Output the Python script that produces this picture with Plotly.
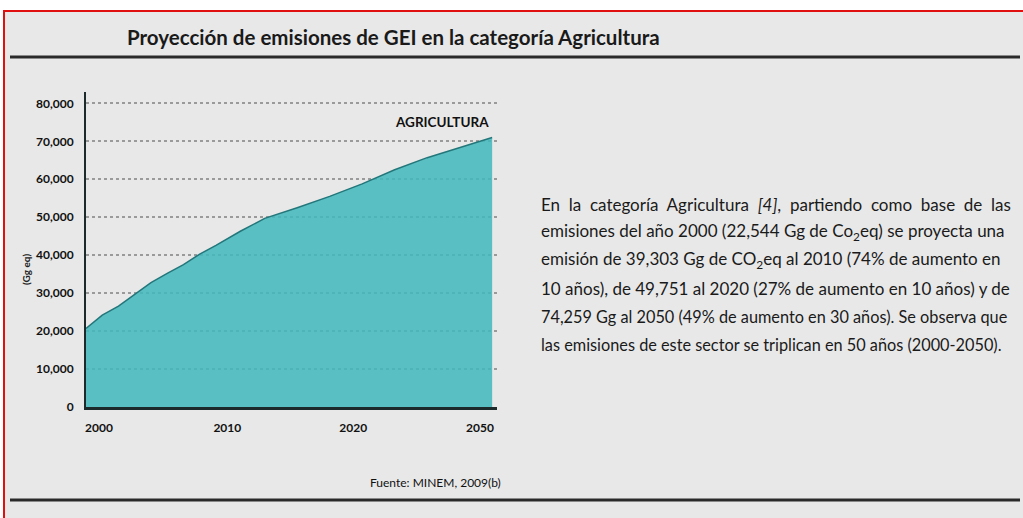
import plotly.graph_objects as go

# Proyección de emisiones de GEI, categoría Agricultura (Gg CO2 eq)
years = [2000, 2002, 2004, 2006, 2008, 2010, 2012, 2014, 2016, 2019,
         2022, 2026, 2030, 2034, 2038, 2042, 2046, 2050]
emissions = [20700, 24200, 26600, 29600, 32800, 35200, 37500, 40300, 42600, 46300,
             49700, 52500, 55500, 58800, 62500, 65700, 68300, 71000]

x_tick_labels = ["2000", "2010", "2020", "2050"]
y_tick_values = [0, 10000, 20000, 30000, 40000, 50000, 60000, 70000, 80000]
y_tick_labels = ["0", "10,000", "20,000", "30,000", "40,000", "50,000",
                 "60,000", "70,000", "80,000"]

title_text = "Proyección de emisiones de GEI en la categoría Agricultura"
series_label = "AGRICULTURA"
y_title = "(Gg eq)"
source_text = "Fuente: MINEM, 2009(b)"
paragraph_lines = [
    "En la categoría Agricultura <i>[4]</i>, partiendo como base de las",
    "emisiones del año 2000 (22,544 Gg de Co<sub>2</sub>eq) se proyecta una",
    "emisión de 39,303 Gg de CO<sub>2</sub>eq al 2010 (74% de aumento en",
    "10 años), de 49,751 al 2020 (27% de aumento en 10 años) y de",
    "74,259 Gg al 2050 (49% de aumento en 30 años). Se observa que",
    "las emisiones de este sector se triplican en 50 años (2000-2050).",
]
# per-line typesetting: (font size, extra spaces between words) to fill the column
paragraph_style = [(17, 1), (17, 0), (17, 0), (17, 0), (16.3, 0), (16.3, 0)]

W, H = 1023, 518
ML, MR, MT, MB = 86, 526, 92, 111
PW, PH = W - ML - MR, H - MT - MB


def px(x):
    return (x - ML) / PW


def py(y):
    return (H - MB - y) / PH


FONT = "Lato, sans-serif"
TEAL_FILL = "rgba(66,184,188,0.86)"
TEAL_EDGE = "#23777b"

fig = go.Figure()
fig.add_trace(go.Scatter(
    x=years, y=emissions, mode="lines",
    line=dict(color=TEAL_EDGE, width=1.5),
    fill="tozeroy", fillcolor=TEAL_FILL,
    hoverinfo="x+y", showlegend=False,
))

shapes = [
    # framed grey panel
    dict(type="rect", xref="paper", yref="paper", layer="below",
         x0=px(4), x1=px(1030), y0=py(11), y1=py(530),
         line=dict(color="#e01010", width=2), fillcolor="#e8e8e8"),
    # rule under the heading
    dict(type="line", xref="paper", yref="paper",
         x0=px(10), x1=px(1020), y0=py(57), y1=py(57),
         line=dict(color="#2a2a2a", width=3)),
    # closing rule
    dict(type="line", xref="paper", yref="paper",
         x0=px(10), x1=px(1020), y0=py(500), y1=py(500),
         line=dict(color="#2a2a2a", width=3)),
]

annotations = [
    dict(text="<b>" + title_text + "</b>", xref="paper", yref="paper",
         x=px(125), y=py(37), xanchor="left", yanchor="middle", showarrow=False,
         font=dict(family=FONT, size=20.5, color="#1a1a1a")),
    dict(text="<b>" + series_label + "</b>", xref="paper", yref="paper",
         x=px(491), y=py(122), xanchor="right", yanchor="middle", showarrow=False,
         font=dict(family=FONT, size=13.5, color="#111111")),
    dict(text="<b>" + y_title + "</b>", xref="paper", yref="paper",
         x=px(26), y=py(270), xanchor="center", yanchor="middle", showarrow=False,
         textangle=-90, font=dict(family=FONT, size=10, color="#222222")),
    dict(text=source_text, xref="paper", yref="paper",
         x=px(435), y=py(482), xanchor="center", yanchor="middle", showarrow=False,
         font=dict(family=FONT, size=12, color="#111111")),
]
for i, (line, (size, extra)) in enumerate(zip(paragraph_lines, paragraph_style)):
    spaced = line.replace(" ", " " + "&nbsp;" * extra) if extra else line
    annotations.append(dict(
        text=spaced, xref="paper", yref="paper",
        x=px(539), y=py(204 + i * 28), xanchor="left", yanchor="middle",
        showarrow=False, font=dict(family=FONT, size=size, color="#1a1a1a")))

fig.update_layout(
    width=W, height=H,
    margin=dict(l=ML, r=MR, t=MT, b=MB),
    paper_bgcolor="white", plot_bgcolor="rgba(0,0,0,0)",
    shapes=shapes, annotations=annotations,
    xaxis=dict(
        range=[2000, 2050.6], showgrid=False, zeroline=False,
        showline=True, linecolor="#1c2a2b", linewidth=3,
        tickmode="array", tickvals=[2001.6, 2017.4, 2032.9, 2048.5],
        ticktext=["<b>" + t + "</b>" for t in x_tick_labels],
        ticks="", ticklabelstandoff=8,
        tickfont=dict(family=FONT, size=12, color="#111111"),
    ),
    yaxis=dict(
        range=[0, 83000], showgrid=True, gridcolor="#9a9a9a", griddash="dot",
        gridwidth=1.5, zeroline=False,
        showline=True, linecolor="#1c2a2b", linewidth=2,
        tickmode="array", tickvals=y_tick_values,
        ticktext=["<b>" + t + "</b>" for t in y_tick_labels],
        ticks="", ticklabelstandoff=8,
        tickfont=dict(family=FONT, size=12, color="#111111"),
    ),
)

fig.write_html("out.html")
